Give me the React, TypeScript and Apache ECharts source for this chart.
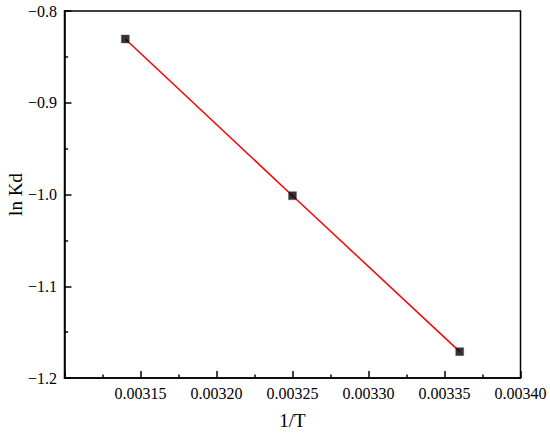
import React, { useEffect, useRef } from "react";
import * as echarts from "echarts";

const invT = [0.00314, 0.00325, 0.00336];
const lnKd = [-0.8305, -1.0013, -1.1713];
const xTicks = { min: 0.0031, max: 0.0034, step: 0.00005 };
const yTicks = { min: -1.2, max: -0.8, step: 0.1 };

export default function App() {
  const ref = useRef<HTMLDivElement>(null);
  useEffect(() => {
    if (!ref.current) return;
    const chart = echarts.init(ref.current, null, { renderer: "svg" });
    const pts = invT.map((x, i) => [x, lnKd[i]]);
    const font = "Liberation Serif";
    chart.setOption({
      animation: false,
      backgroundColor: "#ffffff",
      textStyle: { fontFamily: font },
      grid: {
        left: 64.5,
        right: 29.5,
        top: 11,
        bottom: 55,
        show: true,
        borderColor: "#000",
        borderWidth: 1.5,
        containLabel: false,
        outerBoundsMode: "none",
      },
      xAxis: {
        type: "value",
        min: xTicks.min,
        max: xTicks.max,
        interval: xTicks.step,
        name: "1/T",
        nameLocation: "middle",
        nameGap: 33,
        nameTextStyle: { fontFamily: font, fontSize: 19, color: "#000" },
        axisLine: { lineStyle: { color: "#000", width: 1.5 } },
        axisTick: { inside: true, length: 7, lineStyle: { color: "#000", width: 1.5 } },
        minorTick: { show: true, splitNumber: 2, length: 3.5, lineStyle: { color: "#000", width: 1.5 } },
        splitLine: { show: false },
        axisLabel: {
          fontFamily: font,
          fontSize: 16,
          color: "#000",
          margin: 7,
          formatter: (v: number) => (v < 0.003125 ? "" : v.toFixed(5)),
        },
      },
      yAxis: {
        type: "value",
        min: yTicks.min,
        max: yTicks.max,
        interval: yTicks.step,
        name: "ln Kd",
        nameLocation: "middle",
        nameGap: 40,
        nameMoveOverlap: false,
        nameTextStyle: { fontFamily: font, fontSize: 19, color: "#000" },
        axisLine: { show: true, lineStyle: { color: "#000", width: 1.5 } },
        axisTick: { show: true, inside: true, length: 7, lineStyle: { color: "#000", width: 1.5 } },
        minorTick: { show: true, splitNumber: 2, length: 3.5, lineStyle: { color: "#000", width: 1.5 } },
        splitLine: { show: false },
        axisLabel: {
          fontFamily: font,
          fontSize: 16,
          color: "#000",
          margin: 7.5,
          formatter: (v: number) => v.toFixed(1).replace("-", "\u2212"),
        },
      },
      series: [
        {
          type: "line",
          data: pts,
          showSymbol: false,
          symbol: "none",
          lineStyle: { color: "#ff0000", width: 1.5 },
          z: 2,
        },
        {
          type: "scatter",
          data: pts,
          symbol: "rect",
          symbolSize: 8,
          itemStyle: { color: "#000", borderColor: "#555", borderWidth: 0.5 },
          z: 3,
        },
      ],
    });
    return () => chart.dispose();
  }, []);
  return <div ref={ref} style={{ width: 550, height: 433, position: "absolute", left: 0, top: 0 }} />;
}
